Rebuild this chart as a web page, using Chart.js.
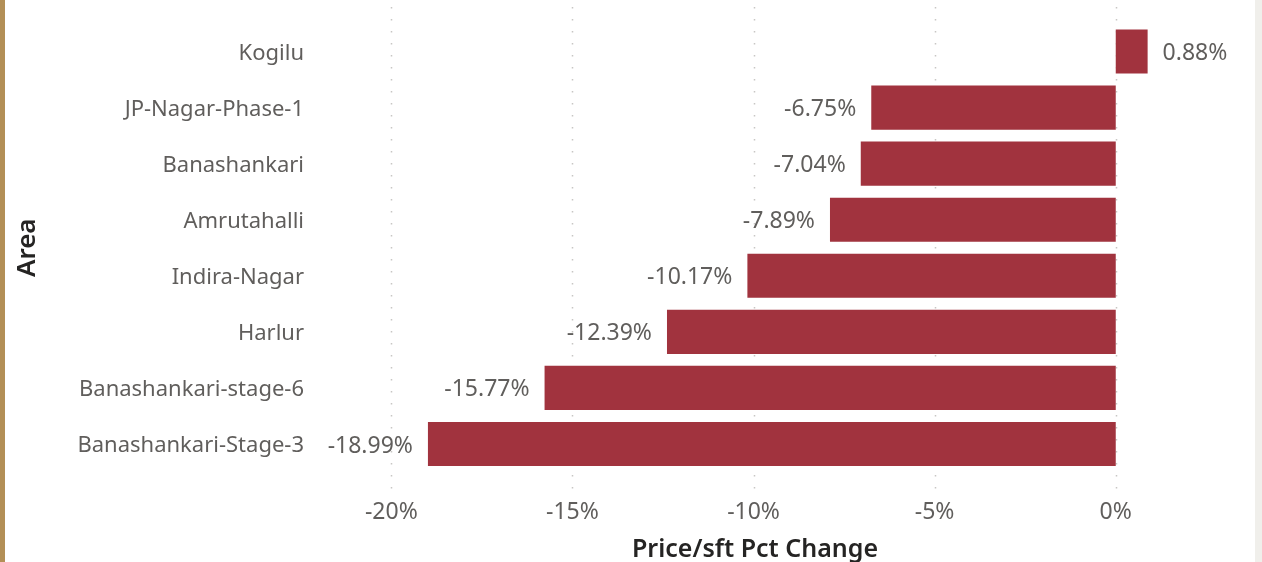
<!DOCTYPE html>
<html>
<head>
<meta charset="utf-8">
<script src="https://cdn.jsdelivr.net/npm/chart.js@4/dist/chart.umd.min.js"></script>
<style>
  html, body { margin: 0; padding: 0; background: #fff; }
  #wrap {
    position: relative;
    width: 1250px; height: 562px;
    border-left: 5px solid #b38f56;
    border-right: 7px solid #f0efeb;
  }
</style>
</head>
<body>
<div id="wrap"><canvas id="areaChart" width="1250" height="562"></canvas></div>
<script>
// chart data
const areas = ['Kogilu', 'JP-Nagar-Phase-1', 'Banashankari', 'Amrutahalli',
  'Indira-Nagar', 'Harlur', 'Banashankari-stage-6', 'Banashankari-Stage-3'];
const pctChange = [0.88, -6.75, -7.04, -7.89, -10.17, -12.39, -15.77, -18.99];
const xTickValues = [-20, -15, -10, -5, 0];

const barColor = '#a1333e';
const labelGrey = '#605e5c';
const font = "'Noto Sans', 'Open Sans', sans-serif";

// dotted vertical gridlines that run a bit past the bars, like the original
const dottedGrid = {
    id: 'dottedGrid',
    beforeDatasetsDraw(chart) {
        const ctx = chart.ctx;
        const xs = chart.scales.x;
        ctx.save();
        ctx.strokeStyle = '#c8c6c4';
        ctx.lineWidth = 1.5;
        ctx.setLineDash([1.5, 10.5]);
        xTickValues.forEach(v => {
            const x = Math.round(xs.getPixelForValue(v)) + 0.5;
            ctx.beginPath();
            ctx.moveTo(x, 7);
            ctx.lineTo(x, 490);
            ctx.stroke();
        });
        ctx.restore();
    }
};

// value labels at the outer end of each bar
const valueLabels = {
    id: 'valueLabels',
    afterDatasetsDraw(chart) {
        const ctx = chart.ctx;
        const meta = chart.getDatasetMeta(0);
        ctx.save();
        ctx.font = '23px ' + font;
        ctx.fillStyle = labelGrey;
        ctx.textBaseline = 'middle';
        meta.data.forEach((bar, i) => {
            const v = pctChange[i];
            const text = v.toFixed(2) + '%';
            if (v >= 0) {
                ctx.textAlign = 'left';
                ctx.fillText(text, bar.x + 15, bar.y + 2);
            } else {
                ctx.textAlign = 'right';
                ctx.fillText(text, bar.x - 15, bar.y + 2);
            }
        });
        ctx.restore();
    }
};

const ctx = document.getElementById('areaChart').getContext('2d');
const areaChart = new Chart(ctx, {
    type: 'bar',
    data: {
        labels: areas,
        datasets: [{
            label: 'Price/sft Pct Change',
            data: pctChange,
            backgroundColor: barColor,
            barPercentage: 0.786,
            categoryPercentage: 1.0
        }]
    },
    options: {
        indexAxis: 'y',
        responsive: false,
        animation: false,
        layout: { padding: { top: 23.5, right: 65, bottom: 0, left: 0 } },
        plugins: {
            legend: { display: false },
            tooltip: { enabled: false }
        },
        scales: {
            x: {
                min: -21.97,
                max: 2.05,
                grid: { display: false, drawTicks: false },
                border: { display: false },
                afterBuildTicks(scale) {
                    scale.ticks = xTickValues.map(v => ({ value: v }));
                },
                afterFit(scale) { scale.height = 90; },
                ticks: {
                    padding: 27,
                    color: labelGrey,
                    font: { family: font, size: 23 },
                    callback: v => v + '%'
                },
                title: {
                    display: true,
                    text: 'Price/sft Pct Change',
                    color: '#252423',
                    font: { family: font, size: 25, weight: '600', lineHeight: 1.0 },
                    padding: { top: 0, bottom: 0 }
                }
            },
            y: {
                grid: { display: false, drawTicks: false },
                border: { display: false },
                afterFit(scale) {
                    scale.width = 315;
                    scale.paddingTop = 0;
                    scale.paddingBottom = 0;
                },
                ticks: {
                    padding: 16,
                    labelOffset: 2,
                    color: labelGrey,
                    font: { family: font, size: 22 }
                },
                title: {
                    display: true,
                    text: 'Area',
                    color: '#252423',
                    font: { family: font, size: 26, weight: '600' },
                    padding: { top: 7, bottom: 0 }
                }
            }
        }
    },
    plugins: [dottedGrid, valueLabels]
});
</script>
</body>
</html>
